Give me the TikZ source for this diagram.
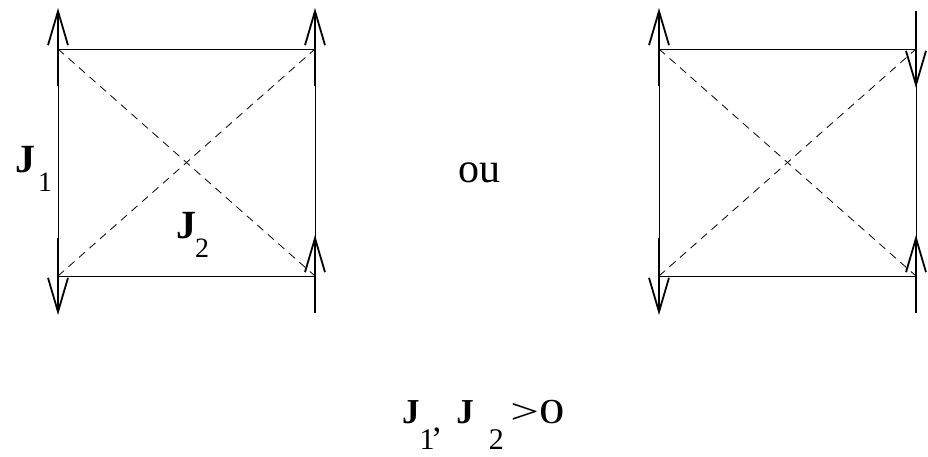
\documentclass[tikz,border=0pt]{standalone}
\usepackage{graphicx}
\usepackage{fontspec}
\setmainfont{Liberation Serif}
\usetikzlibrary{arrows.meta}

\begin{document}
\begin{tikzpicture}[x=1pt,y=-1pt,
  bond/.style={line width=0.9pt},
  diag/.style={line width=0.8pt,dash pattern=on 8pt off 6pt},
  spin/.style={line width=1.8pt,-{Straight Barb[length=34pt,width=20pt]}},
  lab/.style={inner sep=0pt,anchor=base west}]
\useasboundingbox (0,0) rectangle (928,456);

% The two squares of sites: left (L) and right (R).
\foreach \sq/\x in {L/58,R/659}{
  \coordinate (\sq tl) at (\x,49);
  \coordinate (\sq tr) at (\x+257,49);
  \coordinate (\sq bl) at (\x,276);
  \coordinate (\sq br) at (\x+257,276);
  \draw[bond] (\sq tl) -- (\sq tr) -- (\sq br) -- (\sq bl) -- cycle;
  \draw[diag] (\sq tl) -- (\sq br);
  \draw[diag] (\sq bl) -- (\sq tr);
}

% Spins: up or down on each site.
\foreach \s in {Ltl,Ltr,Lbr,Rtl,Rbr}{
  \draw[spin] ([yshift=-37pt]\s) -- ([yshift=41pt]\s);
}
\foreach \s in {Lbl,Rtr,Rbl}{
  \draw[spin] ([yshift=38pt]\s) -- ([yshift=-39pt]\s);
}

% Labels.
\node[lab] (j1) at (15,172) {{\fontsize{40}{40}\selectfont\bfseries J}\hspace{3pt}\raisebox{-19pt}{\fontsize{28}{28}\selectfont 1}};
\node[lab] (j2) at (176,238) {{\fontsize{40}{40}\selectfont\bfseries J}\hspace{-1pt}\raisebox{-19pt}{\fontsize{28}{28}\selectfont 2}};
\node[inner sep=0pt,anchor=base] (ou) at (479,182) {\fontsize{42}{42}\selectfont ou};
\node[lab] (cond) at (402,423) {{\fontsize{35}{35}\selectfont\bfseries J}\raisebox{-26pt}{\fontsize{30}{30}\selectfont 1}\hspace{-2pt}\raisebox{-8pt}{\fontsize{35}{35}\selectfont ,}\hspace{15pt}{\fontsize{35}{35}\selectfont\bfseries J}\hspace{15pt}\raisebox{-26pt}{\fontsize{30}{30}\selectfont 2}\hspace{6.5pt}\scalebox{1.45}[1]{\fontsize{35}{35}\selectfont\mdseries >0}};
\end{tikzpicture}
\end{document}
